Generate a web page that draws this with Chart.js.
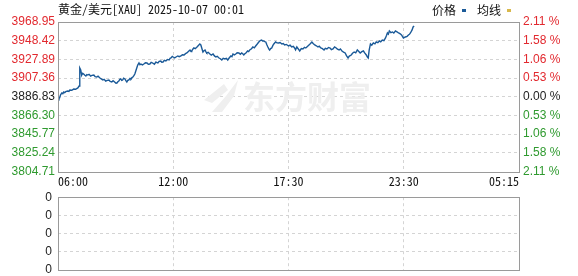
<!DOCTYPE html>
<html>
<head>
<meta charset="utf-8">
<script src="https://cdn.jsdelivr.net/npm/chart.js@4.4.0/dist/chart.umd.min.js"></script>
<style>
  html, body { margin: 0; padding: 0; background: #fff; overflow: hidden; }
  #wrap { position: relative; width: 578px; height: 276px; overflow: hidden; }
  #priceChart { position: absolute; left: 0; top: 0; }
  #volChart { position: absolute; left: 0; top: 184px; }
</style>
</head>
<body>
<div id="wrap">
  <canvas id="priceChart" width="578" height="190"></canvas>
  <canvas id="volChart" width="578" height="100"></canvas>
</div>
<script>
const chartTitle = '黄金/美元[XAU] 2025-10-07 00:01';
const legendNames = ['价格', '均线'];
const timeLabels = ['06:00', '12:00', '17:30', '23:30', '05:15'];
const priceTicks = [3968.95, 3948.42, 3927.89, 3907.36, 3886.83, 3866.30, 3845.77, 3825.24, 3804.71];
const basePrice = 3886.83;
const volumeTickLabels = ['0', '0', '0', '0', '0'];

const times = [
  '06:00', '06:03', '06:05', '06:08', '06:12', '06:15', '06:18', '06:21', '06:24', '06:30',
  '06:34', '06:37', '06:43', '06:49', '06:55', '07:02', '07:06', '07:08', '07:11', '07:13',
  '07:14', '07:17', '07:20', '07:24', '07:27', '07:30', '07:33', '07:37', '07:42', '07:46',
  '07:52', '07:56', '08:01', '08:05', '08:11', '08:15', '08:20', '08:24', '08:29', '08:34',
  '08:39', '08:43', '08:48', '08:52', '08:57', '09:01', '09:04', '09:07', '09:10', '09:13',
  '09:16', '09:19', '09:22', '09:25', '09:29', '09:32', '09:35', '09:38', '09:41', '09:45',
  '09:48', '09:51', '09:54', '09:57', '10:00', '10:03', '10:06', '10:09', '10:13', '10:16',
  '10:19', '10:24', '10:28', '10:33', '10:38', '10:42', '10:47', '10:51', '10:56', '11:01',
  '11:06', '11:09', '11:12', '11:16', '11:21', '11:24', '11:28', '11:32', '11:37', '11:42',
  '11:47', '11:50', '11:53', '11:57', '12:00', '12:04', '12:08', '12:13', '12:17', '12:22',
  '12:26', '12:31', '12:35', '12:39', '12:44', '12:48', '12:51', '12:53', '12:56', '12:59',
  '13:03', '13:08', '13:12', '13:16', '13:19', '13:22', '13:25', '13:28', '13:31', '13:34',
  '13:36', '13:40', '13:45', '13:49', '13:54', '13:58', '14:02', '14:06', '14:11', '14:15',
  '14:19', '14:23', '14:28', '14:32', '14:36', '14:40', '14:45', '14:48', '14:51', '14:55',
  '14:59', '15:03', '15:08', '15:12', '15:16', '15:19', '15:22', '15:25', '15:28', '15:31',
  '15:33', '15:36', '15:39', '15:44', '15:48', '15:52', '15:56', '16:00', '16:05', '16:09',
  '16:13', '16:16', '16:19', '16:22', '16:25', '16:28', '16:31', '16:34', '16:36', '16:39',
  '16:42', '16:45', '16:48', '16:51', '16:53', '16:57', '17:02', '17:06', '17:11', '17:15',
  '17:19', '17:24', '17:30', '17:35', '17:40', '17:45', '17:49', '17:52', '17:56', '18:00',
  '18:05', '18:10', '18:15', '18:20', '18:24', '18:29', '18:34', '18:38', '18:43', '18:47',
  '18:52', '18:57', '19:02', '19:06', '19:11', '19:16', '19:21', '19:25', '19:30', '19:35',
  '19:40', '19:44', '19:49', '19:54', '19:59', '20:03', '20:08', '20:12', '20:17', '20:22',
  '20:27', '20:31', '20:36', '20:40', '20:46', '20:50', '20:55', '21:00', '21:05', '21:09',
  '21:14', '21:19', '21:24', '21:28', '21:33', '21:36', '21:39', '21:42', '21:46', '21:50',
  '21:55', '22:00', '22:04', '22:09', '22:14', '22:18', '22:23', '22:28', '22:33', '22:36',
  '22:39', '22:42', '22:45', '22:50', '22:55', '22:59', '23:04', '23:09', '23:14', '23:19',
  '23:23', '23:29', '23:35', '23:40', '23:44', '23:47', '23:50', '23:55', '23:58', '00:01'
];
const prices = [
  3886.6, 3884.8, 3885.5, 3889.0, 3891.0, 3890.2, 3892.0, 3891.3, 3892.4, 3893.1,
  3892.6, 3894.2, 3894.0, 3895.3, 3895.0, 3896.5, 3898.6, 3918.4, 3916.2, 3912.5,
  3910.7, 3912.6, 3911.8, 3910.4, 3909.6, 3911.2, 3910.7, 3911.5, 3909.6, 3910.3,
  3910.7, 3908.9, 3908.5, 3909.4, 3907.4, 3906.5, 3905.2, 3906.0, 3904.1, 3904.9,
  3905.2, 3903.6, 3903.0, 3904.4, 3903.0, 3901.6, 3901.9, 3903.3, 3904.1, 3905.9,
  3906.4, 3904.8, 3905.2, 3907.2, 3906.4, 3904.5, 3903.0, 3904.9, 3905.2, 3907.0,
  3906.4, 3907.9, 3908.5, 3910.0, 3911.8, 3915.1, 3918.4, 3921.6, 3923.9, 3922.0,
  3922.8, 3921.9, 3922.8, 3924.1, 3923.9, 3922.5, 3922.8, 3924.6, 3923.9, 3922.6,
  3925.0, 3924.2, 3923.9, 3925.8, 3926.1, 3924.7, 3925.0, 3926.9, 3926.1, 3927.8,
  3927.2, 3929.0, 3929.4, 3931.2, 3930.5, 3929.6, 3930.5, 3931.6, 3930.8, 3931.6,
  3933.0, 3932.7, 3934.2, 3934.9, 3936.8, 3938.2, 3936.5, 3937.1, 3939.1, 3940.4,
  3939.6, 3941.5, 3943.2, 3944.8, 3943.7, 3939.8, 3936.0, 3937.4, 3938.2, 3935.8,
  3934.9, 3935.6, 3933.8, 3932.6, 3933.8, 3931.7, 3930.5, 3931.2, 3929.4, 3928.6,
  3927.2, 3929.1, 3928.3, 3929.0, 3927.2, 3929.4, 3931.6, 3930.9, 3933.8, 3932.8,
  3933.8, 3935.2, 3934.9, 3933.5, 3934.9, 3934.1, 3932.7, 3934.0, 3934.9, 3936.2,
  3937.1, 3936.4, 3938.2, 3939.6, 3941.5, 3940.6, 3942.6, 3944.5, 3947.0, 3948.5,
  3949.2, 3948.0, 3948.1, 3947.5, 3947.0, 3944.0, 3941.5, 3939.2, 3938.2, 3939.8,
  3940.4, 3943.0, 3944.8, 3946.2, 3947.0, 3946.0, 3945.9, 3946.4, 3944.8, 3945.2,
  3943.7, 3944.3, 3942.6, 3943.5, 3941.5, 3942.3, 3940.4, 3938.4, 3941.5, 3939.6,
  3937.1, 3939.8, 3939.3, 3941.2, 3940.4, 3942.1, 3943.7, 3945.0, 3947.0, 3945.3,
  3943.7, 3942.8, 3941.5, 3942.4, 3940.4, 3939.6, 3938.2, 3940.1, 3939.3, 3941.0,
  3940.4, 3938.5, 3939.3, 3941.6, 3940.4, 3939.0, 3938.2, 3939.4, 3937.1, 3935.9,
  3934.9, 3932.0, 3929.4, 3931.5, 3932.7, 3934.6, 3936.0, 3935.0, 3938.2, 3936.8,
  3934.9, 3936.3, 3937.1, 3935.0, 3932.7, 3930.6, 3929.4, 3938.0, 3944.8, 3943.4,
  3945.9, 3944.9, 3947.0, 3946.2, 3948.1, 3947.2, 3949.2, 3948.5, 3951.4, 3954.0,
  3956.9, 3955.6, 3959.1, 3957.2, 3958.0, 3956.8, 3959.1, 3958.0, 3956.9, 3956.0,
  3954.7, 3951.4, 3952.5, 3953.2, 3954.7, 3955.4, 3956.9, 3960.2, 3963.5, 3964.6
];

const RED = '#e2292f';
const GREEN = '#2f9a2f';
const BLACK = '#222';
const LINE_BLUE = '#1b5a98';
const GRID = '#d4d4d4';
const FRAME = '#9a9a9a';
const labelFont = { family: 'Arial, "Liberation Sans"', size: 12 };

// minutes since 06:00, wrapping past midnight
function toMin(s) {
  const [h, m] = s.split(':').map(Number);
  let t = h * 60 + m - 360;
  if (t < 0) t += 1440;
  return t;
}
// each session segment between tick labels gets equal width
const segMin = timeLabels.map(toMin);
function toPos(s) {
  const t = toMin(s);
  for (let i = 0; i < segMin.length - 1; i++) {
    if (t <= segMin[i + 1]) return i + (t - segMin[i]) / (segMin[i + 1] - segMin[i]);
  }
  return segMin.length - 1;
}

function tickColor(v) {
  if (Math.abs(v - basePrice) < 0.001) return BLACK;
  return v > basePrice ? RED : GREEN;
}

const xTicks = s => { s.ticks = timeLabels.map((l, i) => ({ value: i })); };
const innerGrid = n => ctx => (ctx.index > 0 && ctx.index < n - 1) ? GRID : 'rgba(0,0,0,0)';

// frame around the plot area
const framePlugin = {
  id: 'frame',
  afterDraw(chart) {
    const { ctx, chartArea: a } = chart;
    ctx.save();
    ctx.strokeStyle = FRAME;
    ctx.lineWidth = 1;
    ctx.strokeRect(Math.round(a.left) + 0.5, Math.round(a.top) + 0.5,
      Math.round(a.right - a.left), Math.round(a.bottom - a.top));
    ctx.restore();
  }
};

// title, small legend and faint watermark
const headerPlugin = {
  id: 'header',
  beforeDatasetsDraw(chart) {
    const { ctx } = chart;
    ctx.save();
    ctx.fillStyle = '#efefef';
    // logo swoosh
    ctx.beginPath();
    ctx.moveTo(238, 80); ctx.lineTo(226, 96); ctx.lineTo(212, 112); ctx.lineTo(222, 112);
    ctx.lineTo(234, 96); ctx.closePath(); ctx.fill();
    ctx.beginPath();
    ctx.moveTo(224, 84); ctx.lineTo(204, 100); ctx.lineTo(212, 103); ctx.lineTo(228, 90);
    ctx.closePath(); ctx.fill();
    ctx.font = 'bold 32px "Noto Sans CJK SC"';
    ctx.textBaseline = 'middle';
    ctx.fillText('东方财富', 243, 97);
    ctx.restore();
  },
  afterDraw(chart) {
    const { ctx, chartArea: a } = chart;
    ctx.save();
    ctx.textBaseline = 'middle';
    ctx.fillStyle = '#111';
    ctx.font = '12px "Noto Sans Mono CJK SC", "Noto Sans CJK SC", monospace';
    ctx.fillText(chartTitle, a.left, 9);
    ctx.font = '12px "Noto Sans CJK SC"';
    ctx.fillText(legendNames[0], 432, 10);
    ctx.fillText(legendNames[1], 477, 10);
    ctx.fillStyle = LINE_BLUE;
    ctx.fillRect(462, 9, 4, 3);
    ctx.fillStyle = '#d8b84c';
    ctx.fillRect(507, 9, 4, 3);
    ctx.restore();
  }
};

new Chart(document.getElementById('priceChart'), {
  type: 'line',
  data: {
    datasets: [{
      data: times.map((t, i) => ({ x: toPos(t), y: prices[i] })),
      borderColor: LINE_BLUE,
      borderWidth: 1.4,
      pointRadius: 0,
      tension: 0,
      yAxisID: 'y'
    }]
  },
  options: {
    responsive: false,
    animation: false,
    layout: { padding: { top: 22, left: 0, right: 0, bottom: 0 } },
    plugins: { legend: { display: false }, tooltip: { enabled: false }, title: { display: false } },
    scales: {
      x: {
        type: 'linear', min: 0, max: timeLabels.length - 1,
        afterBuildTicks: xTicks,
        afterFit: s => { s.height = 18.5; },
        ticks: {
          callback: (v, i) => timeLabels[i],
          align: 'inner', maxRotation: 0, autoSkip: false, padding: 3,
          color: '#111',
          font: { family: '"Noto Sans Mono CJK SC", "Liberation Mono", monospace', size: 12 }
        },
        grid: { color: innerGrid(timeLabels.length), drawTicks: false },
        border: { display: false, dash: [3, 3] }
      },
      y: {
        position: 'left',
        min: priceTicks[priceTicks.length - 1], max: priceTicks[0],
        afterBuildTicks: s => { s.ticks = priceTicks.map(v => ({ value: v })); },
        afterFit: s => { s.width = 58; },
        ticks: {
          callback: v => v.toFixed(2), autoSkip: false,
          color: c => tickColor(c.tick.value),
          padding: 3, font: labelFont
        },
        grid: { color: innerGrid(priceTicks.length), drawTicks: false },
        border: { display: false, dash: [3, 3] }
      },
      y2: {
        position: 'right',
        min: priceTicks[priceTicks.length - 1], max: priceTicks[0],
        afterBuildTicks: s => { s.ticks = priceTicks.map(v => ({ value: v })); },
        afterFit: s => { s.width = 59; },
        ticks: {
          callback: v => Math.abs((v - basePrice) / basePrice * 100).toFixed(2) + ' %',
          autoSkip: false,
          color: c => tickColor(c.tick.value),
          padding: 4, font: labelFont
        },
        grid: { display: false, drawTicks: false },
        border: { display: false }
      }
    }
  },
  plugins: [framePlugin, headerPlugin]
});

// volume panel: empty, all tick labels read "0"
new Chart(document.getElementById('volChart'), {
  type: 'line',
  data: { datasets: [{ data: [], borderColor: LINE_BLUE }] },
  options: {
    responsive: false,
    animation: false,
    layout: { padding: { top: 12.5, left: 0, right: 59, bottom: 0 } },
    plugins: { legend: { display: false }, tooltip: { enabled: false } },
    scales: {
      x: {
        type: 'linear', min: 0, max: timeLabels.length - 1,
        afterBuildTicks: xTicks,
        afterFit: s => { s.height = 14; },
        ticks: { display: false, autoSkip: false },
        grid: { color: innerGrid(timeLabels.length), drawTicks: false },
        border: { display: false, dash: [3, 3] }
      },
      y: {
        min: 0, max: volumeTickLabels.length - 1,
        afterBuildTicks: s => { s.ticks = volumeTickLabels.map((l, i) => ({ value: i })); },
        afterFit: s => { s.width = 58; },
        ticks: { callback: (v, i) => volumeTickLabels[i], autoSkip: false, color: BLACK, padding: 6, font: labelFont },
        grid: { color: innerGrid(volumeTickLabels.length), drawTicks: false },
        border: { display: false, dash: [3, 3] }
      }
    }
  },
  plugins: [framePlugin]
});
</script>
</body>
</html>
